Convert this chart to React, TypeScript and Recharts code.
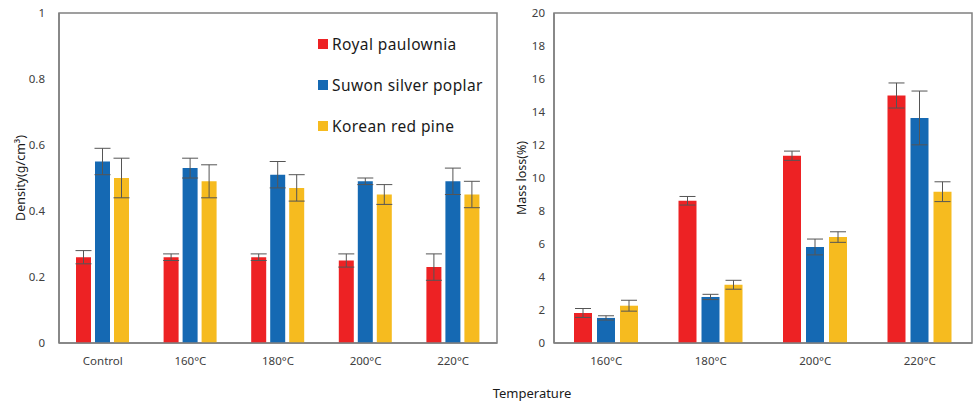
import React from "react";
import {
  BarChart,
  Bar,
  XAxis,
  YAxis,
  ErrorBar,
  ReferenceArea,
} from "recharts";

const SERIES = ["Royal paulownia", "Suwon silver poplar", "Korean red pine"];
const COLORS = ["#ED2224", "#1569B3", "#F6BB1F"];

const densityCategories = ["Control", "160°C", "180°C", "200°C", "220°C"];
const densityRoyal = [0.26, 0.26, 0.26, 0.25, 0.23];
const densityRoyalErr = [0.02, 0.01, 0.01, 0.02, 0.04];
const densitySuwon = [0.55, 0.53, 0.51, 0.49, 0.49];
const densitySuwonErr = [0.04, 0.03, 0.04, 0.01, 0.04];
const densityPine = [0.5, 0.49, 0.47, 0.45, 0.45];
const densityPineErr = [0.06, 0.05, 0.04, 0.03, 0.04];
const densityTicks = [0, 0.2, 0.4, 0.6, 0.8, 1];

const massCategories = ["160°C", "180°C", "200°C", "220°C"];
const massRoyal = [1.82, 8.62, 11.35, 15.0];
const massRoyalErr = [0.27, 0.26, 0.28, 0.76];
const massSuwon = [1.52, 2.79, 5.82, 13.64];
const massSuwonErr = [0.13, 0.16, 0.48, 1.63];
const massPine = [2.26, 3.53, 6.42, 9.17];
const massPineErr = [0.33, 0.27, 0.32, 0.6];
const massTicks = [0, 2, 4, 6, 8, 10, 12, 14, 16, 18, 20];

const densityData = densityCategories.map((c, i) => ({
  cat: c,
  royal: densityRoyal[i],
  royalErr: densityRoyalErr[i],
  suwon: densitySuwon[i],
  suwonErr: densitySuwonErr[i],
  pine: densityPine[i],
  pineErr: densityPineErr[i],
}));

const massData = massCategories.map((c, i) => ({
  cat: c,
  royal: massRoyal[i],
  royalErr: massRoyalErr[i],
  suwon: massSuwon[i],
  suwonErr: massSuwonErr[i],
  pine: massPine[i],
  pineErr: massPineErr[i],
}));

const tickStyle = { fontSize: 11.5, fill: "#404040" };
const axisColor = "#808080";
const errColor = "#555555";

// legend drawn as plain html so it does not eat into the plot area
function SpeciesLegend() {
  return (
    <div style={{ position: "absolute", left: 318, top: 23 }}>
      {SERIES.map((s, i) => (
        <div
          key={s}
          style={{
            display: "flex",
            alignItems: "center",
            height: 41,
            fontSize: 15.5,
            color: "#1a1a1a",
            letterSpacing: 0.4,
          }}
        >
          <span
            style={{
              width: 10,
              height: 10,
              background: COLORS[i],
              display: "inline-block",
              marginRight: 4,
            }}
          />
          {s}
        </div>
      ))}
    </div>
  );
}

export default function App() {
  return (
    <div
      style={{
        position: "fixed",
        left: 0,
        top: 0,
        width: 974,
        height: 403,
        background: "#fff",
        fontFamily: "'Noto Sans', sans-serif",
      }}
    >
      <div style={{ position: "absolute", left: 0, top: 0 }}>
        <BarChart
          width={500}
          height={403}
          data={densityData}
          margin={{ top: 13, right: 3, left: 0, bottom: 0 }}
          barCategoryGap={17}
          barGap={4}
        >
          <ReferenceArea y1={0} y2={1} stroke={axisColor} strokeWidth={1.5} fill="none" ifOverflow="visible" />
          <XAxis
            dataKey="cat"
            height={60}
            tick={tickStyle}
            tickLine={false}
            tickMargin={8}
            axisLine={{ stroke: axisColor, strokeWidth: 1.5 }}
          />
          <YAxis
            width={59}
            domain={[0, 1]}
            ticks={densityTicks}
            tick={tickStyle}
            tickLine={false}
            tickMargin={8}
            axisLine={{ stroke: axisColor, strokeWidth: 1.5 }}
            label={{
              value: "Density(g/cm³)",
              angle: -90,
              position: "insideLeft",
              offset: 21,
              style: { fontSize: 12.5, fill: "#1a1a1a", textAnchor: "middle" },
            }}
          />
          <Bar dataKey="royal" name={SERIES[0]} fill={COLORS[0]} isAnimationActive={false}>
            <ErrorBar dataKey="royalErr" width={8} stroke={errColor} strokeWidth={1} />
          </Bar>
          <Bar dataKey="suwon" name={SERIES[1]} fill={COLORS[1]} isAnimationActive={false}>
            <ErrorBar dataKey="suwonErr" width={8} stroke={errColor} strokeWidth={1} />
          </Bar>
          <Bar dataKey="pine" name={SERIES[2]} fill={COLORS[2]} isAnimationActive={false}>
            <ErrorBar dataKey="pineErr" width={8} stroke={errColor} strokeWidth={1} />
          </Bar>
        </BarChart>
        <SpeciesLegend />
      </div>
      <div style={{ position: "absolute", left: 500, top: 0 }}>
        <BarChart
          width={474}
          height={403}
          data={massData}
          margin={{ top: 13, right: 2, left: 0, bottom: 0 }}
          barCategoryGap={20}
          barGap={5}
        >
          <ReferenceArea y1={0} y2={20} stroke={axisColor} strokeWidth={1.5} fill="none" ifOverflow="visible" />
          <XAxis
            dataKey="cat"
            height={60}
            tick={tickStyle}
            tickLine={false}
            tickMargin={8}
            axisLine={{ stroke: axisColor, strokeWidth: 1.5 }}
          />
          <YAxis
            width={54}
            domain={[0, 20]}
            ticks={massTicks}
            tick={tickStyle}
            tickLine={false}
            tickMargin={3}
            axisLine={{ stroke: axisColor, strokeWidth: 1.5 }}
            label={{
              value: "Mass loss(%)",
              angle: -90,
              position: "insideLeft",
              offset: 22,
              style: { fontSize: 12.5, fill: "#1a1a1a", textAnchor: "middle" },
            }}
          />
          <Bar dataKey="royal" name={SERIES[0]} fill={COLORS[0]} isAnimationActive={false}>
            <ErrorBar dataKey="royalErr" width={8} stroke={errColor} strokeWidth={1} />
          </Bar>
          <Bar dataKey="suwon" name={SERIES[1]} fill={COLORS[1]} isAnimationActive={false}>
            <ErrorBar dataKey="suwonErr" width={8} stroke={errColor} strokeWidth={1} />
          </Bar>
          <Bar dataKey="pine" name={SERIES[2]} fill={COLORS[2]} isAnimationActive={false}>
            <ErrorBar dataKey="pineErr" width={8} stroke={errColor} strokeWidth={1} />
          </Bar>
        </BarChart>
      </div>
      <div
        style={{
          position: "absolute",
          left: 432,
          width: 200,
          top: 384,
          textAlign: "center",
          fontSize: 13,
          color: "#1a1a1a",
        }}
      >
        Temperature
      </div>
    </div>
  );
}
